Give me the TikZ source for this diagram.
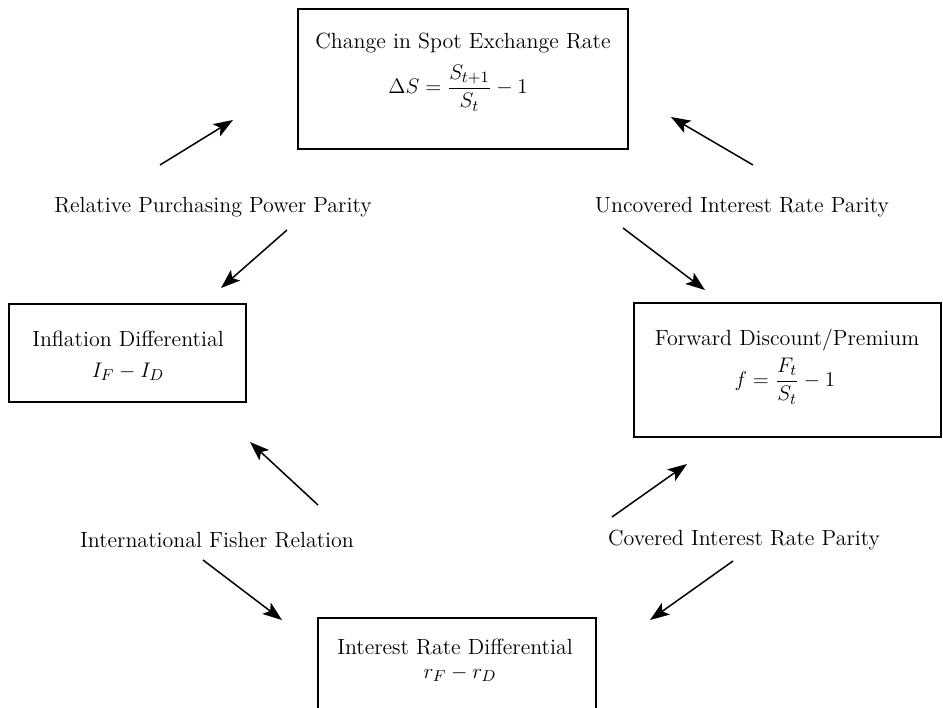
\documentclass[tikz,border=0pt]{standalone}
\usepackage{amsmath, amssymb}
\usepackage{tikz}
\usetikzlibrary{arrows.meta, calc}
\tikzset{
    parity/.style={->, >={Stealth[length=11pt, width=8pt, inset=2.5pt]}, line width=0.85pt},
    framebox/.style={draw, line width=0.7pt, inner sep=0pt},
    caption/.style={font=\fontsize{12.5}{14}\selectfont, inner sep=1pt},
    formula/.style={font=\fontsize{12.5}{14}\selectfont, inner sep=1pt}
}

\begin{document}
\begin{tikzpicture}[x=0.02cm, y=-0.02cm]
    \clip (0,0) rectangle (943,707);
    % Boxes
    \node[framebox, minimum width=6.6cm, minimum height=2.8cm] (spot) at (463,79) {};
    \node[framebox, minimum width=4.74cm, minimum height=1.96cm] (infl) at (127.5,353) {};
    \node[framebox, minimum width=6.14cm, minimum height=2.68cm] (fwd) at (787.5,370) {};
    \node[framebox, minimum width=5.56cm, minimum height=2.84cm] (irate) at (457,689) {};
    % Box contents
    \node[caption] (spottitle) at (463,43) {Change in Spot Exchange Rate};
    \node[formula] (spotform) at (458,88) {$\Delta S = \dfrac{S_{t+1}}{S_t} - 1$};
    \node[caption] (infltitle) at (128,339) {Inflation Differential};
    \node[formula] (inflform) at (128,372) {$I_F - I_D$};
    \node[caption] (fwdtitle) at (787,340) {Forward Discount/Premium};
    \node[formula] (fwdform) at (785,381) {$f = \dfrac{F_t}{S_t} - 1$};
    \node[caption] (iratetitle) at (455,647) {Interest Rate Differential};
    \node[formula] (irateform) at (460,674) {$r_F - r_D$};
    % Parity labels
    \node[caption] (rppp) at (213,207) {Relative Purchasing Power Parity};
    \node[caption] (uirp) at (742,207) {Uncovered Interest Rate Parity};
    \node[caption] (ifr) at (217,540) {International Fisher Relation};
    \node[caption] (cirp) at (744,540) {Covered Interest Rate Parity};
    % Arrow ends
    \coordinate (a1s) at (160,165); \coordinate (a1e) at (233,120);
    \coordinate (a2s) at (287,230); \coordinate (a2e) at (221,288);
    \coordinate (a3s) at (753,165); \coordinate (a3e) at (671,117);
    \coordinate (a4s) at (623,228); \coordinate (a4e) at (705,290);
    \coordinate (a5s) at (318,505); \coordinate (a5e) at (250,442);
    \coordinate (a6s) at (203,560); \coordinate (a6e) at (282,620);
    \coordinate (a7s) at (612,517); \coordinate (a7e) at (687,464);
    \coordinate (a8s) at (733,561); \coordinate (a8e) at (650,620);
    % Arrows
    \foreach \i in {1,...,8}
        \draw[parity] (a\i s) -- (a\i e);
\end{tikzpicture}
\end{document}
